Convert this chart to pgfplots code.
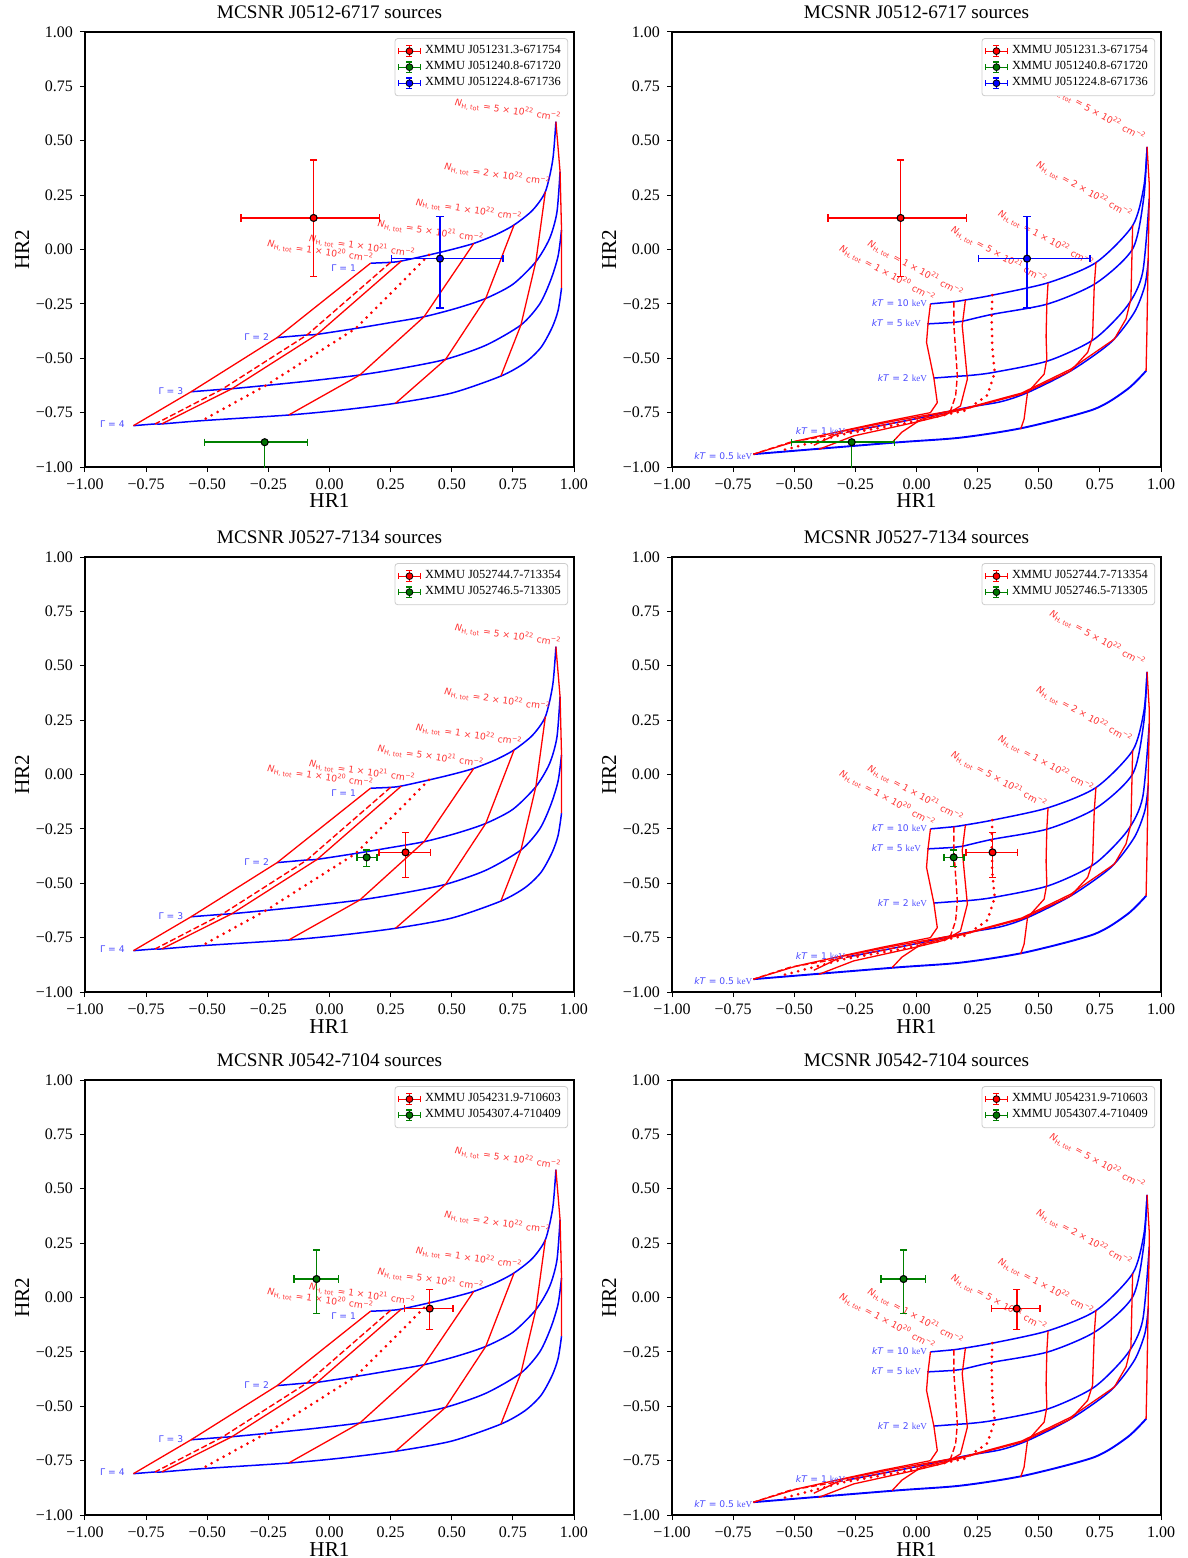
\documentclass[border=0pt]{standalone}
\usepackage{fontspec}
\setmainfont{Liberation Serif}
\newfontfamily\dejavu{DejaVu Sans}
\usepackage{pgfplots}
\pgfplotsset{compat=1.18}

\definecolor{mplgreen}{rgb}{0,0.5,0}
\definecolor{mplgreenfill}{rgb}{0,0.45,0}
\colorlet{labred}{red!80}
\colorlet{labblue}{blue!70}

\newcommand{\NH}[2]{{\dejavu\textit{N}\textsubscript{H, tot} = #1 × 10\textsuperscript{#2} cm\textsuperscript{−2}}}
\newcommand{\Gam}[1]{{\dejavu Γ = #1}}
\newcommand{\kT}[1]{{\dejavu\textit{kT} = #1 {\rmfamily keV}}}

\tikzset{
  nhl/.style={text=labred, font=\fontsize{4.6}{5}\selectfont, inner sep=0pt},
  gl/.style={text=labblue, font=\fontsize{4.6}{5}\selectfont, inner sep=0pt, anchor=east},
}

\pgfplotsset{
  panel/.style={
    scale only axis, width=244.5pt, height=217.5pt,
    xmin=-1, xmax=1, ymin=-1, ymax=1,
    xtick={-1,-0.75,-0.5,-0.25,0,0.25,0.5,0.75,1},
    ytick={-1,-0.75,-0.5,-0.25,0,0.25,0.5,0.75,1},
    xticklabels={−1.00,−0.75,−0.50,−0.25,0.00,0.25,0.50,0.75,1.00},
    yticklabels={−1.00,−0.75,−0.50,−0.25,0.00,0.25,0.50,0.75,1.00},
    tick align=outside, tick pos=left, major tick length=2.5pt,
    tick style={black, line width=0.5pt},
    axis line style={line width=0.6pt},
    ticklabel style={font=\fontsize{8}{9}\selectfont},
    label style={font=\fontsize{10.6}{12}\selectfont},
    xlabel={HR1}, ylabel={HR2},
    xlabel style={inner sep=0.5pt, yshift=2pt}, ylabel style={yshift=-3.5pt},
    title style={font=\fontsize{9.6}{11}\selectfont, yshift=-3pt},
    legend style={at={(0.988,0.986)}, anchor=north east, draw=black!20, rounded corners=1.5pt,
      font=\fontsize{6.2}{7}\selectfont, row sep=-1.6pt, inner sep=1.5pt, cells={anchor=west}},
  },
  gb/.style={forget plot, blue, line width=0.75pt, smooth, tension=0.45},
  gr/.style={forget plot, red, line width=0.65pt},
  grdash/.style={forget plot, red, line width=0.7pt, dash pattern=on 3pt off 1.4pt},
  grdot/.style={forget plot, red, line width=1.5pt, line cap=round, dash pattern=on 0pt off 3.4pt},
}

\newcommand{\ebimg}[2]{\addlegendimage{legend image code/.code={
  \draw[#1, line width=0.55pt] (0pt,0pt) -- (11pt,0pt);
  \draw[#1, line width=0.55pt] (0pt,-1.5pt) -- (0pt,1.5pt);
  \draw[#1, line width=0.55pt] (11pt,-1.5pt) -- (11pt,1.5pt);
  \draw[#1, line width=0.55pt] (5.5pt,-2.6pt) -- (5.5pt,2.6pt);
  \draw[#1, line width=0.55pt] (4pt,2.6pt) -- (7pt,2.6pt);
  \draw[#1, line width=0.55pt] (4pt,-2.6pt) -- (7pt,-2.6pt);
  \draw[black, fill=#2, line width=0.4pt] (5.5pt,0pt) circle (1.7pt);
}}}

% #1 colour, #2 fill, #3 x, #4 y, #5 xlow, #6 xhigh, #7 ylow, #8 yhigh
\newcommand{\datapt}[8]{%
  \addplot[forget plot, #1, line width=0.75pt, mark=|, mark size=1.8pt, mark options={solid, line width=0.75pt}] coordinates {(#5,#4) (#6,#4)};
  \addplot[forget plot, #1, line width=0.75pt, mark=-, mark size=1.8pt, mark options={solid, line width=0.75pt}] coordinates {(#3,#7) (#3,#8)};
  \addplot[forget plot, only marks, mark=*, mark size=1.75pt,
    mark options={fill=#2, draw=black, line width=0.55pt}] coordinates {(#3,#4)};
}

\newcommand{\leftgrid}{%
  \addplot[gb] coordinates {(0.168,-0.063) (0.25,-0.059) (0.294,-0.053) (0.407,-0.025) (0.50,0.0) (0.59,0.028) (0.68,0.068) (0.755,0.113) (0.83,0.18) (0.883,0.266) (0.913,0.411) (0.926,0.588)};
  \addplot[gb] coordinates {(-0.214,-0.405) (-0.092,-0.393) (-0.05,-0.39) (0.107,-0.363) (0.25,-0.336) (0.387,-0.309) (0.52,-0.27) (0.639,-0.225) (0.75,-0.16) (0.844,-0.056) (0.90,0.05) (0.930,0.17) (0.943,0.358)};
  \addplot[gb] coordinates {(-0.566,-0.654) (-0.44,-0.643) (-0.399,-0.640) (-0.26,-0.625) (-0.07,-0.603) (0.124,-0.577) (0.30,-0.545) (0.475,-0.505) (0.64,-0.44) (0.783,-0.347) (0.86,-0.25) (0.905,-0.14) (0.935,-0.03) (0.949,0.09)};
  \addplot[gb] coordinates {(-0.802,-0.810) (-0.713,-0.802) (-0.686,-0.802) (-0.522,-0.787) (-0.167,-0.761) (0.05,-0.738) (0.270,-0.707) (0.50,-0.66) (0.701,-0.582) (0.80,-0.52) (0.865,-0.45) (0.91,-0.36) (0.935,-0.28) (0.949,-0.178)};
  \addplot[gr] coordinates {(0.168,-0.063) (-0.214,-0.405) (-0.566,-0.654) (-0.802,-0.810)};
  \addplot[grdash] coordinates {(0.25,-0.059) (-0.092,-0.393) (-0.44,-0.643) (-0.713,-0.802)};
  \addplot[gr] coordinates {(0.294,-0.053) (-0.05,-0.39) (-0.399,-0.640) (-0.686,-0.802)};
  \addplot[grdot] coordinates {(0.407,-0.025) (0.107,-0.363) (-0.26,-0.625) (-0.522,-0.787)};
  \addplot[gr] coordinates {(0.59,0.028) (0.387,-0.309) (0.124,-0.577) (-0.167,-0.761)};
  \addplot[gr] coordinates {(0.755,0.113) (0.639,-0.225) (0.475,-0.505) (0.270,-0.707)};
  \addplot[gr] coordinates {(0.883,0.266) (0.844,-0.056) (0.783,-0.347) (0.701,-0.582)};
  \addplot[gr] coordinates {(0.926,0.588) (0.943,0.358) (0.949,0.090) (0.949,-0.178)};
  \node[nhl, rotate=-8.5] at (axis cs:0.73,0.64) {\NH{5}{22}};
  \node[nhl, rotate=-8.5] at (axis cs:0.687,0.343) {\NH{2}{22}};
  \node[nhl, rotate=-8.5] at (axis cs:0.571,0.182) {\NH{1}{22}};
  \node[nhl, rotate=-8.5] at (axis cs:0.414,0.082) {\NH{5}{21}};
  \node[nhl, rotate=-8.5] at (axis cs:0.134,0.013) {\NH{1}{21}};
  \node[nhl, rotate=-8.5] at (axis cs:-0.037,-0.01) {\NH{1}{20}};
  \node[gl] at (axis cs:0.11,-0.087) {\Gam{1}};
  \node[gl] at (axis cs:-0.246,-0.401) {\Gam{2}};
  \node[gl] at (axis cs:-0.597,-0.649) {\Gam{3}};
  \node[gl] at (axis cs:-0.836,-0.802) {\Gam{4}};
}

\newcommand{\rightgrid}{%
  \addplot[gb] coordinates {(0.057,-0.25) (0.153,-0.24) (0.2,-0.232) (0.31,-0.21) (0.538,-0.153) (0.734,-0.06) (0.884,0.11) (0.93,0.29) (0.943,0.472)};
  \addplot[gb] coordinates {(0.044,-0.342) (0.153,-0.335) (0.187,-0.33) (0.31,-0.298) (0.538,-0.25) (0.734,-0.155) (0.884,0.003) (0.929,0.234) (0.943,0.472)};
  \addplot[gb] coordinates {(0.071,-0.591) (0.167,-0.583) (0.208,-0.58) (0.31,-0.566) (0.538,-0.512) (0.727,-0.412) (0.863,-0.258) (0.925,-0.105) (0.952,0.234)};
  \addplot[gb] coordinates {(-0.284,-0.839) (-0.011,-0.78) (0.2,-0.728) (0.344,-0.70) (0.454,-0.658) (0.631,-0.558) (0.795,-0.427) (0.891,-0.289) (0.934,-0.166) (0.948,-0.05)};
  \addplot[gb, line width=0.95pt] coordinates {(-0.667,-0.941) (-0.093,-0.888) (0.18,-0.865) (0.44,-0.819) (0.727,-0.734) (0.863,-0.642) (0.939,-0.558)};
  \addplot[gr] coordinates {(0.057,-0.25) (0.047,-0.343) (0.041,-0.427) (0.071,-0.591) (0.085,-0.704) (0.057,-0.75) (-0.148,-0.796) (-0.284,-0.829) (-0.489,-0.88) (-0.667,-0.941)};
  \addplot[grdash] coordinates {(0.153,-0.24) (0.153,-0.35) (0.167,-0.581) (0.16,-0.673) (0.139,-0.742) (-0.011,-0.78) (-0.284,-0.84) (-0.516,-0.886) (-0.667,-0.941)};
  \addplot[gr] coordinates {(0.2,-0.232) (0.187,-0.35) (0.208,-0.596) (0.18,-0.719) (0.12,-0.76) (-0.011,-0.796) (-0.257,-0.857) (-0.4,-0.919)};
  \addplot[grdot] coordinates {(0.31,-0.21) (0.307,-0.30) (0.31,-0.45) (0.32,-0.566) (0.29,-0.67) (0.2,-0.74) (-0.05,-0.80) (-0.3,-0.85) (-0.557,-0.926)};
  \addplot[gr] coordinates {(0.538,-0.153) (0.533,-0.25) (0.53,-0.40) (0.533,-0.504) (0.522,-0.573) (0.454,-0.658) (0.44,-0.78) (0.426,-0.826)};
  \addplot[gr] coordinates {(0.734,-0.058) (0.727,-0.166) (0.72,-0.404) (0.70,-0.473) (0.631,-0.558) (0.43,-0.665) (0.2,-0.733) (0.02,-0.78) (-0.06,-0.84) (-0.1,-0.888)};
  \addplot[gr] coordinates {(0.884,0.111) (0.877,-0.227) (0.857,-0.319) (0.809,-0.412) (0.631,-0.55) (0.43,-0.66) (0.2,-0.73) (-0.1,-0.79) (-0.3,-0.835) (-0.42,-0.90)};
  \addplot[gr] coordinates {(0.943,0.472) (0.952,0.3) (0.952,0.234) (0.948,0.0) (0.945,-0.2) (0.942,-0.4) (0.939,-0.558)};
  \node[nhl, rotate=-29] at (axis cs:0.74,0.626) {\NH{5}{22}};
  \node[nhl, rotate=-29] at (axis cs:0.686,0.274) {\NH{2}{22}};
  \node[nhl, rotate=-29] at (axis cs:0.529,0.051) {\NH{1}{22}};
  \node[nhl, rotate=-29] at (axis cs:0.337,-0.025) {\NH{5}{21}};
  \node[nhl, rotate=-29] at (axis cs:-0.004,-0.087) {\NH{1}{21}};
  \node[nhl, rotate=-29] at (axis cs:-0.12,-0.11) {\NH{1}{20}};
  \node[gl] at (axis cs:0.045,-0.245) {\kT{10}};
  \node[gl] at (axis cs:0.02,-0.339) {\kT{5}};
  \node[gl] at (axis cs:0.045,-0.589) {\kT{2}};
  \node[gl] at (axis cs:-0.29,-0.833) {\kT{1}};
  \node[gl] at (axis cs:-0.67,-0.95) {\kT{0.5}};
}

\newcommand{\rowonedata}{%
  \ebimg{red}{red}\addlegendentry{XMMU J051231.3-671754}
  \ebimg{mplgreen}{mplgreenfill}\addlegendentry{XMMU J051240.8-671720}
  \ebimg{blue}{blue}\addlegendentry{XMMU J051224.8-671736}
  \datapt{red}{red}{-0.065}{0.145}{-0.361}{0.205}{-0.125}{0.411}
  \datapt{mplgreen}{mplgreenfill}{-0.265}{-0.886}{-0.511}{-0.089}{-1.2}{-0.886}
  \datapt{blue}{blue}{0.452}{-0.042}{0.253}{0.71}{-0.268}{0.151}
}
\newcommand{\rowtwodata}{%
  \ebimg{red}{red}\addlegendentry{XMMU J052744.7-713354}
  \ebimg{mplgreen}{mplgreenfill}\addlegendentry{XMMU J052746.5-713305}
  \datapt{red}{red}{0.311}{-0.358}{0.202}{0.414}{-0.473}{-0.266}
  \datapt{mplgreen}{mplgreenfill}{0.152}{-0.381}{0.113}{0.195}{-0.424}{-0.346}
}
\newcommand{\rowthreedata}{%
  \ebimg{red}{red}\addlegendentry{XMMU J054231.9-710603}
  \ebimg{mplgreen}{mplgreenfill}\addlegendentry{XMMU J054307.4-710409}
  \datapt{red}{red}{0.410}{-0.051}{0.307}{0.505}{-0.146}{0.036}
  \datapt{mplgreen}{mplgreenfill}{-0.053}{0.085}{-0.146}{0.036}{-0.073}{0.218}
}

\begin{document}
\begin{tikzpicture}
\path[use as bounding box] (0pt,0pt) rectangle (594pt,-779pt);
\begin{axis}[panel, at={(42.5pt,-16pt)}, anchor=north west, title={MCSNR J0512-6717 sources}]
\leftgrid
\rowonedata
\end{axis}
\begin{axis}[panel, at={(336pt,-16pt)}, anchor=north west, title={MCSNR J0512-6717 sources}]
\rightgrid
\rowonedata
\end{axis}
\begin{axis}[panel, at={(42.5pt,-278.5pt)}, anchor=north west, title={MCSNR J0527-7134 sources}]
\leftgrid
\rowtwodata
\end{axis}
\begin{axis}[panel, at={(336pt,-278.5pt)}, anchor=north west, title={MCSNR J0527-7134 sources}]
\rightgrid
\rowtwodata
\end{axis}
\begin{axis}[panel, at={(42.5pt,-540pt)}, anchor=north west, title={MCSNR J0542-7104 sources}]
\leftgrid
\rowthreedata
\end{axis}
\begin{axis}[panel, at={(336pt,-540pt)}, anchor=north west, title={MCSNR J0542-7104 sources}]
\rightgrid
\rowthreedata
\end{axis}
\end{tikzpicture}
\end{document}
